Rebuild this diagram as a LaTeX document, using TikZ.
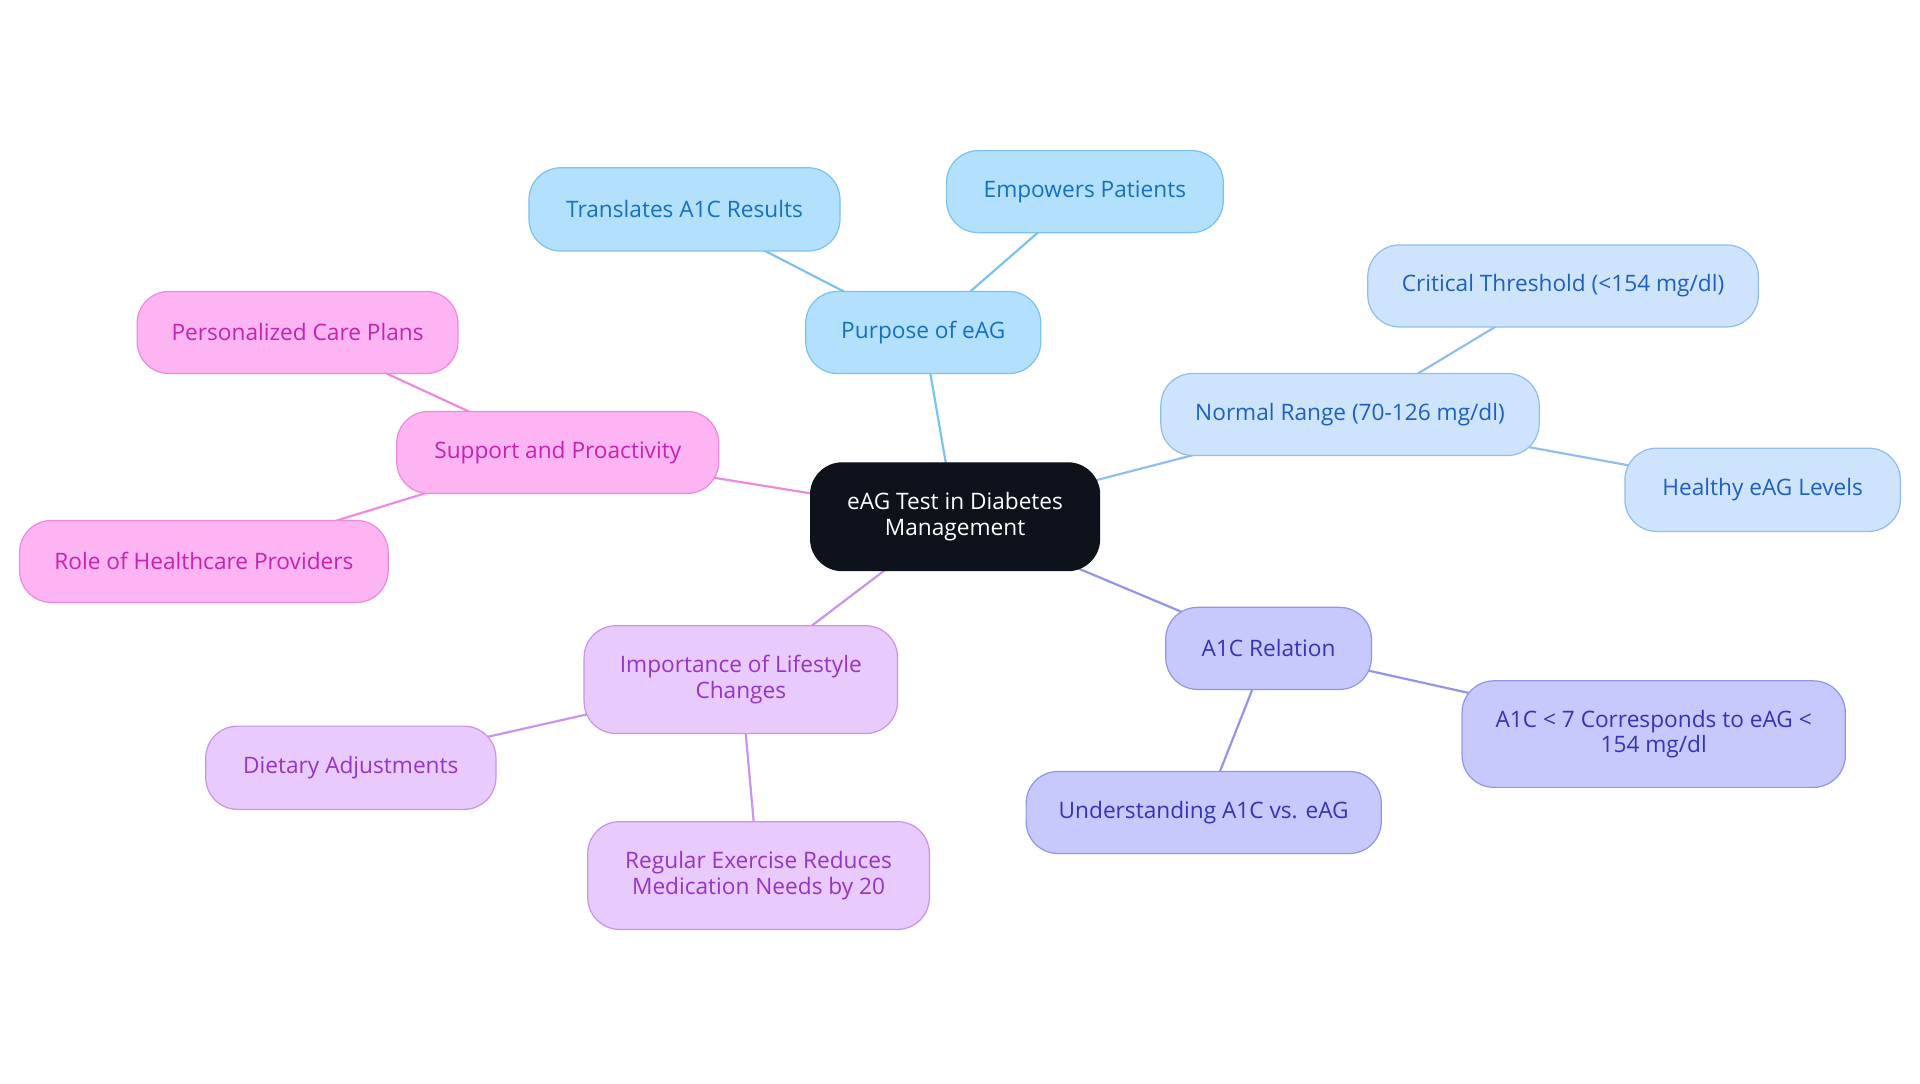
\documentclass[tikz,border=0pt]{standalone}
\usepackage{fontspec}
\setmainfont{Open Sans}
\pgfdeclarelayer{background}
\pgfsetlayers{background,main}
\definecolor{bAf}{HTML}{B3E0FD}\definecolor{bAd}{HTML}{7CC2EE}\definecolor{bAt}{HTML}{1670C0}
\definecolor{bBf}{HTML}{CDE4FC}\definecolor{bBd}{HTML}{93BDEC}\definecolor{bBt}{HTML}{1F5FBF}
\definecolor{pAf}{HTML}{C7C8FC}\definecolor{pAd}{HTML}{9495EA}\definecolor{pAt}{HTML}{3434B4}
\definecolor{lAf}{HTML}{E8CAFC}\definecolor{lAd}{HTML}{C894EE}\definecolor{lAt}{HTML}{9535C5}
\definecolor{kAf}{HTML}{FCB4F2}\definecolor{kAd}{HTML}{EE8ADC}\definecolor{kAt}{HTML}{C524AE}
\definecolor{cAf}{HTML}{0E131B}
\tikzset{
  box/.style={rectangle, rounded corners=26pt, line width=1pt, align=center, inner sep=0pt,
    font=\fontsize{18.5}{21}\selectfont},
  bluebox/.style={box, fill=bAf, draw=bAd, text=bAt},
  lbluebox/.style={box, fill=bBf, draw=bBd, text=bBt},
  purbox/.style={box, fill=pAf, draw=pAd, text=pAt},
  lavbox/.style={box, fill=lAf, draw=lAd, text=lAt},
  pinkbox/.style={box, fill=kAf, draw=kAd, text=kAt},
  rootbox/.style={box, fill=cAf, draw=cAf, text=white},
  link/.style={line width=1.8pt},
}
\begin{document}
\begin{tikzpicture}[x=1pt,y=-1pt]
\useasboundingbox (0,0) rectangle (1568,884.5);
\node[rootbox, minimum width=236pt, minimum height=88pt] (root) at (780,422) {eAG Test in Diabetes\\Management};
\node[bluebox, minimum width=192pt, minimum height=67pt] (pur) at (754,271.5) {Purpose of eAG};
\node[bluebox, minimum width=254pt, minimum height=68pt] (tra) at (559,171) {Translates A1C Results};
\node[bluebox, minimum width=226pt, minimum height=67pt] (emp) at (886,156.5) {Empowers Patients};
\node[lbluebox, minimum width=309pt, minimum height=67pt] (nor) at (1102.5,338.5) {Normal Range (70-126 mg/dl)};
\node[lbluebox, minimum width=319pt, minimum height=67pt] (cri) at (1276.5,233.5) {Critical Threshold (<154 mg/dl)};
\node[lbluebox, minimum width=225pt, minimum height=68pt] (hea) at (1439.5,400) {Healthy eAG Levels};
\node[purbox, minimum width=168pt, minimum height=67pt] (a1c) at (1036,529.5) {A1C Relation};
\node[purbox, minimum width=313pt, minimum height=87pt] (cor) at (1350.5,599.5) {A1C < 7 Corresponds to eAG <\\154 mg/dl};
\node[purbox, minimum width=290pt, minimum height=67pt] (und) at (983,663.5) {Understanding A1C vs. eAG};
\node[lavbox, minimum width=256pt, minimum height=88pt] (imp) at (605,555) {Importance of Lifestyle\\Changes};
\node[lavbox, minimum width=237pt, minimum height=68pt] (die) at (286.5,627) {Dietary Adjustments};
\node[lavbox, minimum width=279pt, minimum height=88pt] (reg) at (619.5,715) {Regular Exercise Reduces\\Medication Needs by 20};
\node[pinkbox, minimum width=263pt, minimum height=67pt] (sup) at (455.5,369.5) {Support and Proactivity};
\node[pinkbox, minimum width=262pt, minimum height=67pt] (per) at (243,271.5) {Personalized Care Plans};
\node[pinkbox, minimum width=301pt, minimum height=67pt] (rol) at (166.5,458.5) {Role of Healthcare Providers};
\begin{pgfonlayer}{background}
\draw[link, draw=bAd] (root.center) -- (pur.center);
\draw[link, draw=bAd] (pur.center) -- (tra.center);
\draw[link, draw=bAd] (pur.center) -- (emp.center);
\draw[link, draw=bBd] (root.center) -- (nor.center);
\draw[link, draw=bBd] (nor.center) -- (cri.center);
\draw[link, draw=bBd] (nor.center) -- (hea.center);
\draw[link, draw=pAd] (root.center) -- (a1c.center);
\draw[link, draw=pAd] (a1c.center) -- (cor.center);
\draw[link, draw=pAd] (a1c.center) -- (und.center);
\draw[link, draw=lAd] (root.center) -- (imp.center);
\draw[link, draw=lAd] (imp.center) -- (die.center);
\draw[link, draw=lAd] (imp.center) -- (reg.center);
\draw[link, draw=kAd] (root.center) -- (sup.center);
\draw[link, draw=kAd] (sup.center) -- (per.center);
\draw[link, draw=kAd] (sup.center) -- (rol.center);
\end{pgfonlayer}
\end{tikzpicture}
\end{document}
